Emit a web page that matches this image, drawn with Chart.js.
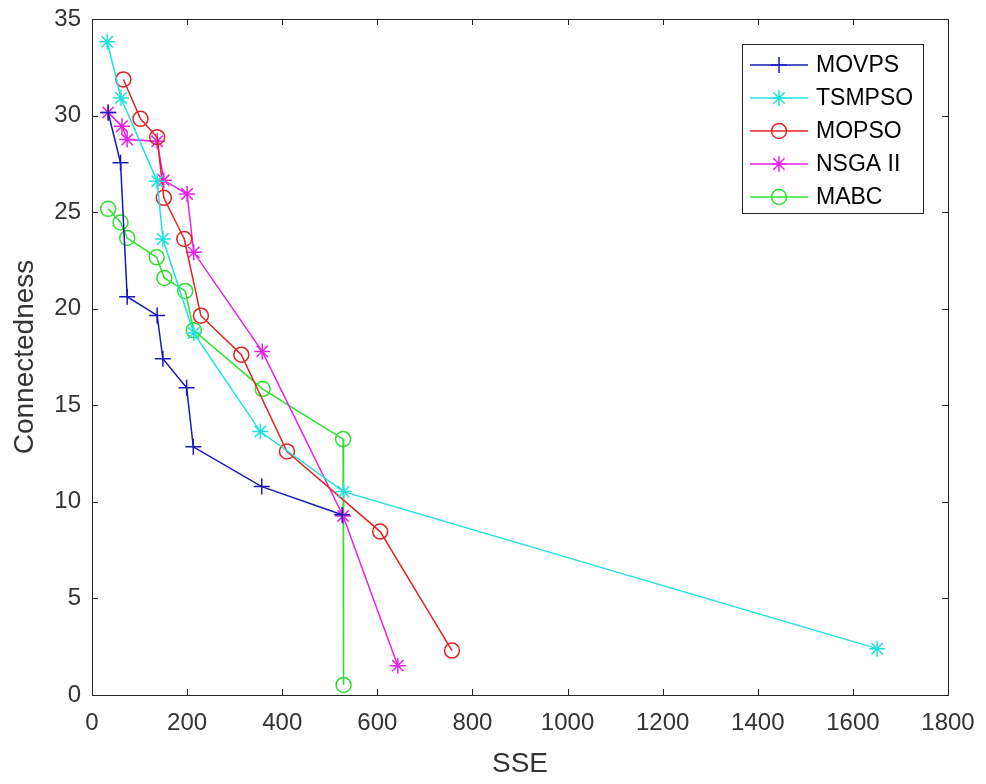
<!DOCTYPE html>
<html>
<head>
<meta charset="utf-8">
<script src="https://cdn.jsdelivr.net/npm/chart.js@4/dist/chart.umd.min.js"></script>
<style>
  html, body { margin: 0; padding: 0; background: #fff; }
  #wrap { width: 986px; height: 784px; }
</style>
</head>
<body>
<div id="wrap"><canvas id="paretoChart" width="986" height="784"></canvas></div>
<script>
const CHART = document.getElementById('paretoChart');

// values
var movpsX = [34, 60, 74, 137, 149, 199, 213, 357, 526];
var movpsY = [30.16, 27.56, 20.62, 19.65, 17.41, 15.91, 12.85, 10.79, 9.33];

var tsmpsoX = [32, 61, 137, 149, 214, 354, 529, 1651];
var tsmpsoY = [33.82, 30.91, 26.6, 23.61, 18.74, 13.64, 10.53, 2.4];

var mopsoX = [66, 102, 137, 151, 194, 229, 314, 410, 606, 757];
var mopsoY = [31.87, 29.83, 28.88, 25.74, 23.61, 19.64, 17.62, 12.61, 8.46, 2.3];

var nsgaX = [34, 63, 74, 137, 151, 200, 214, 358, 528, 643];
var nsgaY = [30.16, 29.45, 28.76, 28.67, 26.65, 25.94, 22.92, 17.79, 9.27, 1.52];

var mabcX = [34, 60, 74, 136, 152, 196, 214, 359, 528, 529];
var mabcY = [25.17, 24.47, 23.66, 22.66, 21.59, 20.92, 18.88, 15.84, 13.25, 0.52];

var xTicks = [0, 200, 400, 600, 800, 1000, 1200, 1400, 1600, 1800];
var yTicks = [0, 5, 10, 15, 20, 25, 30, 35];

function pts(xs, ys) {
  return xs.map(function (x, i) { return { x: x, y: ys[i] }; });
}

function series(label, xs, ys, color, style, radius) {
  return {
    label: label,
    data: pts(xs, ys),
    showLine: true,
    fill: false,
    tension: 0,
    borderColor: color,
    borderWidth: 1.5,
    backgroundColor: 'rgba(0,0,0,0)',
    pointStyle: style,
    pointRadius: radius,
    pointHoverRadius: radius,
    pointBorderColor: color,
    pointBorderWidth: 1.5,
    pointBackgroundColor: 'rgba(0,0,0,0)',
    clip: false
  };
}

var AXIS = '#262626';
var TEXT = '#333333';
var FONT = "'Liberation Sans', Arial, Helvetica, sans-serif";

function drawMarker(ctx, style, x, y, r) {
  ctx.beginPath();
  if (style === 'circle') {
    ctx.arc(x, y, r, 0, Math.PI * 2);
  } else {
    ctx.moveTo(x - r, y); ctx.lineTo(x + r, y);
    ctx.moveTo(x, y - r); ctx.lineTo(x, y + r);
    if (style === 'star') {
      var d = r * Math.SQRT1_2;
      ctx.moveTo(x - d, y - d); ctx.lineTo(x + d, y + d);
      ctx.moveTo(x - d, y + d); ctx.lineTo(x + d, y - d);
    }
  }
  ctx.stroke();
}

// MATLAB style box with inward ticks
var boxPlugin = {
  id: 'matlabBox',
  beforeDatasetsDraw: function (chart) {
    var ctx = chart.ctx, a = chart.chartArea;
    var xs = chart.scales.x, ys = chart.scales.y;
    var t = 6;
    ctx.save();
    ctx.strokeStyle = AXIS;
    ctx.lineWidth = 1;
    ctx.beginPath();
    xTicks.forEach(function (v) {
      var px = Math.round(xs.getPixelForValue(v)) + 0.5;
      ctx.moveTo(px, a.bottom); ctx.lineTo(px, a.bottom - t);
      ctx.moveTo(px, a.top); ctx.lineTo(px, a.top + t);
    });
    yTicks.forEach(function (v) {
      var py = Math.round(ys.getPixelForValue(v)) + 0.5;
      ctx.moveTo(a.left, py); ctx.lineTo(a.left + t, py);
      ctx.moveTo(a.right, py); ctx.lineTo(a.right - t, py);
    });
    ctx.stroke();
    ctx.strokeRect(Math.round(a.left) + 0.5, Math.round(a.top) + 0.5,
      Math.round(a.right - a.left), Math.round(a.bottom - a.top));
    ctx.restore();
  }
};

// legend with line + marker, boxed, top right
var legendPlugin = {
  id: 'matlabLegend',
  afterDatasetsDraw: function (chart) {
    var ctx = chart.ctx;
    var bx = 742, by = 44, bw = 181, bh = 169;
    ctx.save();
    ctx.fillStyle = '#fff';
    ctx.fillRect(bx, by, bw, bh);
    ctx.strokeStyle = AXIS;
    ctx.lineWidth = 1;
    ctx.strokeRect(bx + 0.5, by + 0.5, bw, bh);
    ctx.font = '23px ' + FONT;
    ctx.textBaseline = 'middle';
    chart.data.datasets.forEach(function (ds, i) {
      var y = 65 + i * 33;
      ctx.strokeStyle = ds.borderColor;
      ctx.lineWidth = 1.5;
      ctx.beginPath();
      ctx.moveTo(750, y); ctx.lineTo(808, y);
      ctx.stroke();
      drawMarker(ctx, ds.pointStyle, 779, y, ds.pointRadius);
      ctx.fillStyle = '#000';
      ctx.fillText(ds.label, 816, y + 1);
    });
    ctx.restore();
  }
};

var paretoChart = new Chart(CHART, {
  type: 'scatter',
  data: {
    datasets: [
      series('MOVPS', movpsX, movpsY, '#1a1ab8', 'cross', 8),
      series('TSMPSO', tsmpsoX, tsmpsoY, '#22e0e0', 'star', 8),
      series('MOPSO', mopsoX, mopsoY, '#e02424', 'circle', 7.5),
      series('NSGA II', nsgaX, nsgaY, '#e424e4', 'star', 8),
      series('MABC', mabcX, mabcY, '#2ee02e', 'circle', 7.5)
    ]
  },
  options: {
    responsive: false,
    animation: false,
    layout: { padding: { left: 0, right: 38, top: 19, bottom: 0 } },
    plugins: {
      legend: { display: false },
      tooltip: { enabled: false }
    },
    scales: {
      x: {
        type: 'linear',
        min: 0,
        max: 1800,
        afterBuildTicks: function (s) { s.ticks = xTicks.map(function (v) { return { value: v }; }); },
        afterFit: function (s) { s.height = 89; s.paddingLeft = 0; s.paddingRight = 0; },
        grid: { display: false, drawTicks: false },
        border: { display: false },
        ticks: {
          color: TEXT, font: { family: FONT, size: 24 }, padding: 14, maxRotation: 0,
          callback: function (v) { return String(v); }
        },
        title: { display: true, text: 'SSE', color: TEXT, font: { family: FONT, size: 28 }, padding: { top: 0, bottom: 3 } }
      },
      y: {
        type: 'linear',
        min: 0,
        max: 35,
        afterBuildTicks: function (s) { s.ticks = yTicks.map(function (v) { return { value: v }; }); },
        afterFit: function (s) { s.width = 92; s.paddingTop = 0; s.paddingBottom = 0; },
        grid: { display: false, drawTicks: false },
        border: { display: false },
        ticks: {
          color: TEXT, font: { family: FONT, size: 24 }, padding: 11,
          callback: function (v) { return String(v); }
        },
        title: { display: true, text: 'Connectedness', color: TEXT, font: { family: FONT, size: 28 }, padding: { top: 8, bottom: 0 } }
      }
    }
  },
  plugins: [boxPlugin, legendPlugin]
});
</script>
</body>
</html>
